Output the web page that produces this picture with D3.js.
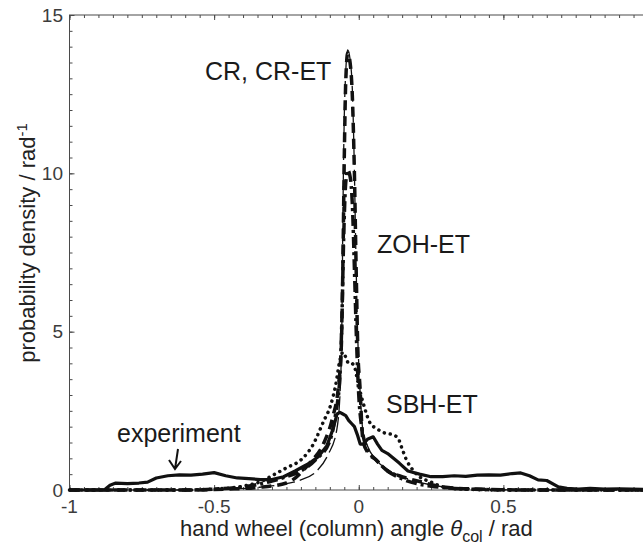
<!DOCTYPE html>
<html>
<head>
<meta charset="utf-8">
<script src="https://cdn.jsdelivr.net/npm/d3@7"></script>
<style>
    body { margin: 0; background: #fff; }
    svg { display: block; font-family: 'Liberation Sans', Arial, sans-serif; }
</style>
</head>
<body>
<div id="chart"></div>
<script>
// values (angle in rad, density in 1/rad)
var crX = [-1, -0.6, -0.45, -0.35, -0.25, -0.2, -0.145, -0.107, -0.076, -0.063, -0.058, -0.055, -0.05, -0.045, -0.038, -0.03, -0.022, -0.016, -0.01, -0.004, 0.003, 0.014, 0.03, 0.06, 0.1, 0.13, 0.21, 0.29, 0.4, 0.6, 1];
var crY = [0, 0, 0.03, 0.08, 0.2, 0.32, 0.6, 1.1, 1.9, 3.4, 5.5, 8.5, 11.8, 13.2, 13.9, 13.6, 12.6, 10.5, 7.5, 5.0, 3.4, 1.9, 1.4, 0.95, 0.65, 0.5, 0.25, 0.1, 0.03, 0, 0];

var cretX = [-1, -0.6, -0.45, -0.35, -0.25, -0.17, -0.12, -0.09, -0.07, -0.06, -0.055, -0.05, -0.045, -0.038, -0.03, -0.022, -0.015, -0.009, -0.003, 0.004, 0.014, 0.03, 0.06, 0.1, 0.14, 0.21, 0.29, 0.4, 0.6, 1];
var cretY = [0, 0, 0.03, 0.08, 0.22, 0.85, 1.5, 2.3, 3.3, 4.6, 7.0, 10.5, 12.9, 13.8, 13.5, 12.4, 10.0, 7.0, 4.4, 3.3, 1.6, 1.2, 0.95, 0.6, 0.45, 0.27, 0.1, 0.03, 0, 0];

var zohX = [-1, -0.6, -0.5, -0.4, -0.3, -0.25, -0.2, -0.15, -0.1, -0.08, -0.065, -0.058, -0.052, -0.045, -0.038, -0.03, -0.022, -0.015, -0.008, 0, 0.01, 0.03, 0.06, 0.1, 0.15, 0.2, 0.25, 0.3, 0.4, 0.6, 1];
var zohY = [0, 0, 0.03, 0.1, 0.28, 0.42, 0.6, 0.95, 1.55, 2.4, 3.6, 5.5, 8.0, 9.7, 10.1, 9.9, 9.0, 7.0, 4.8, 3.0, 2.0, 1.3, 0.95, 0.6, 0.35, 0.2, 0.12, 0.07, 0.02, 0, 0];

var sbhX = [-1, -0.6, -0.5, -0.4, -0.33, -0.3, -0.25, -0.2, -0.16, -0.12, -0.1, -0.08, -0.065, -0.055, -0.045, -0.035, -0.025, -0.015, -0.005, 0.005, 0.02, 0.04, 0.06, 0.09, 0.115, 0.135, 0.15, 0.165, 0.19, 0.21, 0.25, 0.29, 0.35, 0.5, 1];
var sbhY = [0, 0, 0.03, 0.12, 0.3, 0.45, 0.7, 0.95, 1.4, 2.2, 2.6, 3.3, 4.1, 4.35, 4.2, 4.0, 4.0, 3.9, 3.5, 3.1, 2.6, 2.1, 1.95, 1.8, 1.75, 1.65, 1.3, 0.95, 0.6, 0.42, 0.25, 0.1, 0.03, 0, 0];

var expX = [-1, -0.88, -0.86, -0.84, -0.8, -0.76, -0.73, -0.7, -0.66, -0.62, -0.58, -0.54, -0.5, -0.46, -0.42, -0.38, -0.34, -0.3, -0.26, -0.22, -0.19, -0.17, -0.14, -0.11, -0.09, -0.075, -0.065, -0.055, -0.045, -0.035, -0.025, -0.015, -0.005, 0.005, 0.015, 0.03, 0.05, 0.065, 0.08, 0.1, 0.12, 0.14, 0.17, 0.21, 0.25, 0.29, 0.33, 0.37, 0.41, 0.45, 0.49, 0.53, 0.56, 0.59, 0.62, 0.65, 0.69, 0.72, 0.76, 0.8, 0.85, 0.9, 1];
var expY = [0, 0, 0.15, 0.22, 0.2, 0.22, 0.25, 0.38, 0.45, 0.48, 0.47, 0.5, 0.55, 0.45, 0.38, 0.36, 0.33, 0.33, 0.42, 0.6, 0.75, 0.85, 1.05, 1.4, 1.9, 2.4, 2.45, 2.4, 2.35, 2.2, 2.1, 2.0, 1.75, 1.45, 1.45, 1.6, 1.68, 1.45, 1.25, 1.15, 1.0, 0.85, 0.6, 0.5, 0.42, 0.42, 0.45, 0.43, 0.47, 0.48, 0.47, 0.52, 0.54, 0.45, 0.32, 0.3, 0.1, 0.05, 0.03, 0.05, 0.03, 0.04, 0.02];

var xTicks = [-1, -0.5, 0, 0.5, 1];
var xTickLabels = ['-1', '-0.5', '0', '0.5'];
var yTicks = [0, 5, 10, 15];

var width = 643,
    height = 549;

// the right edge of the frame (x = 1) falls just outside the picture
var x = d3.scaleLinear().domain([-1, 1]).range([69.5, 648]);
var y = d3.scaleLinear().domain([0, 15]).range([490, 15]);

var svg = d3
    .select('#chart')
    .append('svg')
    .attr('width', width)
    .attr('height', height);

var axisColor = '#4a4a4a';

// frame
svg.append('rect')
    .attr('x', x(-1))
    .attr('y', y(15))
    .attr('width', x(1) - x(-1))
    .attr('height', y(0) - y(15))
    .attr('fill', 'none')
    .attr('stroke', axisColor)
    .attr('stroke-width', 1);

// inward ticks on all four sides
var xMinor = d3.range(-20, 21).map(function (i) { return i * 0.05; });
var yMinor = d3.range(0, 31).map(function (i) { return i * 0.5; });

function styleAxis(g) {
    g.select('.domain').remove();
    g.selectAll('line').attr('stroke', axisColor);
}

function ticks(values, size, scaleX, scaleY) {
    svg.append('g').attr('transform', 'translate(0,' + y(0) + ')')
        .call(d3.axisBottom(x).tickValues(scaleX).tickSize(-size).tickFormat('')).call(styleAxis);
    svg.append('g').attr('transform', 'translate(0,' + y(15) + ')')
        .call(d3.axisTop(x).tickValues(scaleX).tickSize(-size).tickFormat('')).call(styleAxis);
    svg.append('g').attr('transform', 'translate(' + x(-1) + ',0)')
        .call(d3.axisLeft(y).tickValues(scaleY).tickSize(-size).tickFormat('')).call(styleAxis);
    svg.append('g').attr('transform', 'translate(' + x(1) + ',0)')
        .call(d3.axisRight(y).tickValues(scaleY).tickSize(-size).tickFormat('')).call(styleAxis);
}

ticks(null, 3, xMinor, yMinor);
ticks(null, 5, xTicks, yTicks);

// tick labels
svg.append('g')
    .selectAll('text')
    .data(xTickLabels)
    .enter()
    .append('text')
    .attr('x', function (d) { return x(+d); })
    .attr('y', 513)
    .attr('text-anchor', 'middle')
    .attr('font-size', 19)
    .attr('fill', '#3c3c3c')
    .text(function (d) { return d; });

svg.append('g')
    .selectAll('text')
    .data(yTicks)
    .enter()
    .append('text')
    .attr('x', 63)
    .attr('y', function (d) { return y(d); })
    .attr('dy', '0.35em')
    .attr('text-anchor', 'end')
    .attr('font-size', 19)
    .attr('fill', '#3c3c3c')
    .text(function (d) { return d; });

// axis titles
var xt = svg.append('text')
    .attr('x', 180)
    .attr('y', 536)
    .attr('font-size', 22)
    .attr('fill', '#222');
xt.append('tspan').text('hand wheel (column) angle ');
xt.append('tspan').attr('font-style', 'italic').text('\u03b8');
xt.append('tspan').attr('font-size', 16).attr('dy', 6).text('col');
xt.append('tspan').attr('dy', -6).text(' / rad');

var yt = svg.append('text')
    .attr('transform', 'translate(35,243) rotate(-90)')
    .attr('text-anchor', 'middle')
    .attr('font-size', 22)
    .attr('fill', '#222');
yt.append('tspan').text('probability density / rad');
yt.append('tspan').attr('font-size', 15).attr('dy', -8).text('-1');

// curves
function zip(xs, ys) {
    return xs.map(function (v, i) { return [v, ys[i]]; });
}

var smooth = d3.line()
    .x(function (d) { return x(d[0]); })
    .y(function (d) { return y(d[1]); })
    .curve(d3.curveMonotoneX);

var rough = d3.line()
    .x(function (d) { return x(d[0]); })
    .y(function (d) { return y(d[1]); });

var series = [
    { data: zip(crX, crY), line: smooth, width: 1.3, dash: '16,5', cap: 'butt' },
    { data: zip(cretX, cretY), line: smooth, width: 3.5, dash: '10,6', cap: 'butt' },
    { data: zip(zohX, zohY), line: smooth, width: 3.5, dash: '11,4,3,4', cap: 'butt' },
    { data: zip(sbhX, sbhY), line: smooth, width: 3.5, dash: '0.1,6', cap: 'round' },
    { data: zip(expX, expY), line: rough, width: 3.2, dash: null, cap: 'round' }
];

svg.append('g')
    .selectAll('path')
    .data(series)
    .enter()
    .append('path')
    .attr('d', function (d) { return d.line(d.data); })
    .attr('fill', 'none')
    .attr('stroke', '#111')
    .attr('stroke-width', function (d) { return d.width; })
    .attr('stroke-dasharray', function (d) { return d.dash; })
    .attr('stroke-linecap', function (d) { return d.cap; })
    .attr('stroke-linejoin', 'round');

// annotations
var notes = [
    { text: 'CR, CR-ET', x: 205, y: 80 },
    { text: 'ZOH-ET', x: 377, y: 253 },
    { text: 'SBH-ET', x: 386, y: 413 },
    { text: 'experiment', x: 117, y: 442 }
];

svg.append('g')
    .selectAll('text')
    .data(notes)
    .enter()
    .append('text')
    .attr('x', function (d) { return d.x; })
    .attr('y', function (d) { return d.y; })
    .attr('font-size', 25)
    .attr('fill', '#1a1a1a')
    .text(function (d) { return d.text; });

// arrow for "experiment"
svg.append('path')
    .attr('d', 'M178,449 L175,469 M169,460 L175,469 L181,461')
    .attr('fill', 'none')
    .attr('stroke', '#111')
    .attr('stroke-width', 2)
    .attr('stroke-linejoin', 'miter');
</script>
</body>
</html>
